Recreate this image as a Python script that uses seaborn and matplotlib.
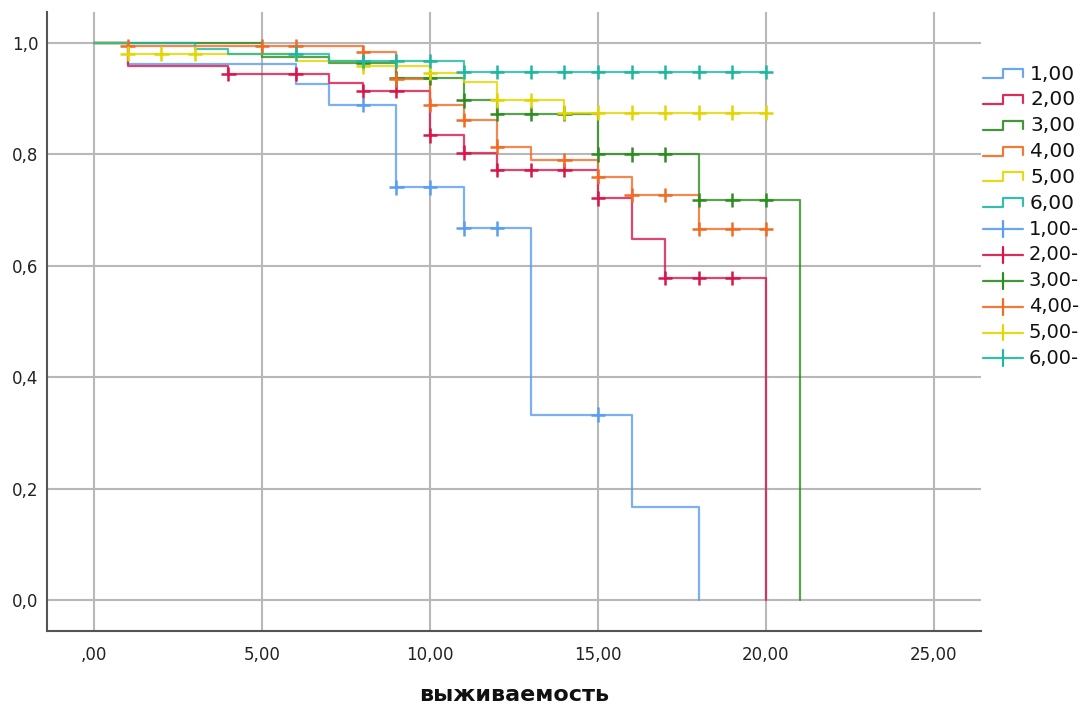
import numpy as np
import pandas as pd
import matplotlib
matplotlib.use("Agg")
import matplotlib.pyplot as plt
from matplotlib.lines import Line2D
import seaborn as sns

# Kaplan-Meier estimates per group: event times, survival after each event,
# last follow-up time, and censoring times.
groups = ["1,00", "2,00", "3,00", "4,00", "5,00", "6,00"]

times_1 = [0, 1, 6, 7, 9, 11, 13, 16, 18]
surv_1 = [1.0, 0.963, 0.926, 0.889, 0.741, 0.667, 0.333, 0.167, 0.0]
end_1 = 18
cens_1 = [8, 9, 10, 11, 12, 15]

times_2 = [0, 1, 4, 7, 8, 10, 11, 12, 15, 16, 17, 20]
surv_2 = [1.0, 0.958, 0.944, 0.929, 0.914, 0.834, 0.803, 0.772, 0.721, 0.649, 0.578, 0.0]
end_2 = 20
cens_2 = [4, 6, 8, 9, 10, 11, 12, 13, 14, 15, 17, 18, 19]

times_3 = [0, 5, 7, 9, 11, 12, 15, 18, 21]
surv_3 = [1.0, 0.975, 0.965, 0.937, 0.897, 0.873, 0.800, 0.718, 0.0]
end_3 = 21
cens_3 = [8, 9, 10, 11, 12, 13, 14, 15, 16, 17, 18, 19, 20]

times_4 = [0, 1, 8, 9, 10, 11, 12, 13, 15, 16, 18]
surv_4 = [1.0, 0.995, 0.983, 0.935, 0.889, 0.862, 0.814, 0.790, 0.760, 0.727, 0.666]
end_4 = 20
cens_4 = [1, 5, 6, 8, 9, 10, 11, 12, 14, 15, 16, 17, 18, 19, 20]

times_5 = [0, 1, 6, 8, 10, 11, 12, 14]
surv_5 = [1.0, 0.981, 0.968, 0.958, 0.946, 0.930, 0.897, 0.875]
end_5 = 20
cens_5 = [1, 2, 3, 8, 10, 12, 13, 14, 15, 16, 17, 18, 19, 20]

times_6 = [0, 3, 4, 7, 11]
surv_6 = [1.0, 0.990, 0.981, 0.968, 0.948]
end_6 = 20
cens_6 = [6, 8, 9, 10, 11, 12, 13, 14, 15, 16, 17, 18, 19, 20]

x_ticks = [0, 5, 10, 15, 20, 25]
x_tick_labels = [",00", "5,00", "10,00", "15,00", "20,00", "25,00"]
y_ticks = [0.0, 0.2, 0.4, 0.6, 0.8, 1.0]
y_tick_labels = ["0,0", "0,2", "0,4", "0,6", "0,8", "1,0"]
x_label = "выживаемость"
censored_suffix = "-"

colors = ["#5c9df0", "#d8164a", "#2f8c22", "#f26a24", "#e3d600", "#1fb7a0"]

series = [
    (times_1, surv_1, end_1, cens_1),
    (times_2, surv_2, end_2, cens_2),
    (times_3, surv_3, end_3, cens_3),
    (times_4, surv_4, end_4, cens_4),
    (times_5, surv_5, end_5, cens_5),
    (times_6, surv_6, end_6, cens_6),
]

# Long-form tables for the step curves and the censoring ticks
curve_rows, cens_rows = [], []
for g, (t, s, end, c) in zip(groups, series):
    tt = list(t)
    ss = list(s)
    if tt[-1] < end:
        tt.append(end)
        ss.append(ss[-1])
    for i, (a, b) in enumerate(zip(tt, ss)):
        curve_rows.append({"group": g, "time": a, "surv": b, "order": i})
    t_arr = np.asarray(t)
    s_arr = np.asarray(s)
    for ct in c:
        idx = np.searchsorted(t_arr, ct, side="right") - 1
        cens_rows.append({"group": g, "time": ct, "surv": s_arr[idx]})

curves = pd.DataFrame(curve_rows)
cens = pd.DataFrame(cens_rows)

sns.set_style("white")
plt.rcParams["font.family"] = ["DejaVu Sans"]

W, H = 1080, 707
fig = plt.figure(figsize=(W / 100, H / 100), dpi=100)
ax_l, ax_r, ax_t, ax_b = 47, 981, 12, 631
ax = fig.add_axes([ax_l / W, 1 - ax_b / H, (ax_r - ax_l) / W, (ax_b - ax_t) / H])

palette = dict(zip(groups, colors))

sns.lineplot(data=curves, x="time", y="surv", hue="group", palette=palette,
             estimator=None, sort=False, units="group", drawstyle="steps-post",
             linewidth=1.6, alpha=0.8, legend=False, ax=ax, zorder=3)
sns.scatterplot(data=cens, x="time", y="surv", hue="group", palette=palette,
                marker="+", s=110, linewidth=1.8, legend=False, ax=ax, zorder=4)

ax.set_xlim(-1.4, 26.4)
ax.set_ylim(-0.0557, 1.0557)
ax.set_xticks(x_ticks)
ax.set_xticklabels(x_tick_labels)
ax.set_yticks(y_ticks)
ax.set_yticklabels(y_tick_labels)
ax.tick_params(axis="both", length=0, labelsize=12, colors="#222222")
ax.tick_params(axis="x", pad=11)
ax.tick_params(axis="y", pad=6)

ax.grid(True, color="#b8b8b8", linewidth=1.5, zorder=0)
ax.set_axisbelow(True)
for side in ["top", "right"]:
    ax.spines[side].set_visible(False)
for side in ["left", "bottom"]:
    ax.spines[side].set_color("#555555")
    ax.spines[side].set_linewidth(1.5)

ax.set_ylabel("")
ax.set_xlabel(x_label, fontsize=16, fontweight="bold", color="#111111")
ax.xaxis.label.set_va("center")
ax.xaxis.set_label_coords(0.5, (ax_b - 695) / (ax_b - ax_t))

# Legend drawn in figure pixel space: step glyphs, then censoring glyphs
def fx(px):
    return px / W


def fy(py):
    return 1 - py / H


x0, xm, x1, xt = 983, 1003, 1023, 1030
row0, step = 74, 25.85
for i, (g, col) in enumerate(zip(groups, colors)):
    yc = row0 + step * i
    lo, hi = yc + 4, yc - 5
    fig.add_artist(Line2D([fx(x0), fx(xm), fx(xm), fx(x1), fx(x1)],
                          [fy(lo), fy(lo), fy(hi), fy(hi), fy(lo - 1)],
                          color=col, linewidth=1.6, alpha=0.9))
    fig.text(fx(xt), fy(yc), g, fontsize=14.5, va="center", ha="left", color="#111111")
for i, (g, col) in enumerate(zip(groups, colors)):
    yc = row0 + step * (i + 6)
    fig.add_artist(Line2D([fx(x0), fx(x1)], [fy(yc), fy(yc)],
                          color=col, linewidth=1.6, alpha=0.9))
    fig.add_artist(Line2D([fx(xm), fx(xm)], [fy(yc - 8), fy(yc + 8)],
                          color=col, linewidth=1.6))
    fig.text(fx(xt - 1), fy(yc), g + censored_suffix, fontsize=14, va="center",
             ha="left", color="#111111")

fig.savefig("out.png", dpi=100)
